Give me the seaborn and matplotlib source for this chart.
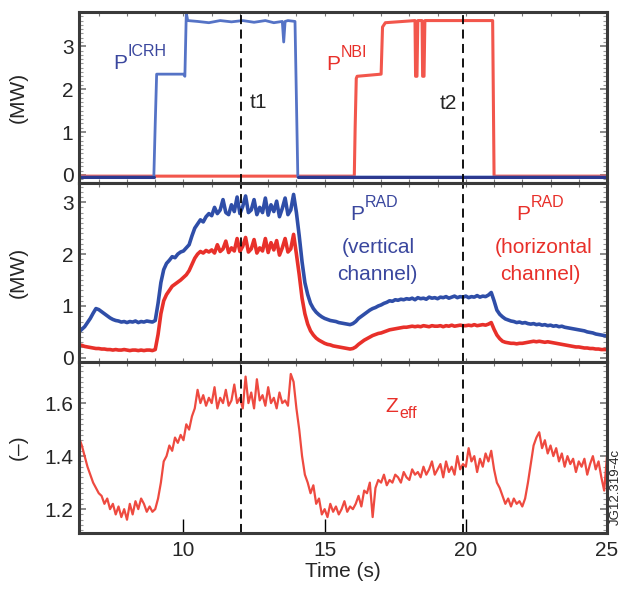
import numpy as np
import pandas as pd
import matplotlib
matplotlib.use("Agg")
import matplotlib.pyplot as plt
import seaborn as sns
from matplotlib.ticker import MultipleLocator

sns.set_style("ticks")
plt.rcParams['font.family'] = ['Liberation Sans', 'DejaVu Sans']

# ---------------- data ----------------
# top panel: heating powers (MW), breakpoints
icrh_t = [6.3, 8.95, 9.0, 9.05, 10.0, 10.05, 10.1, 10.15, 10.5, 10.9, 11.3, 11.7, 12.1,
          12.5, 12.9, 13.2, 13.5, 13.55, 13.6, 13.7, 13.95, 14.05, 25.0]
icrh_p = [-0.05, -0.05, 1.2, 2.35, 2.35, 2.3, 3.78, 3.6, 3.58, 3.55, 3.6, 3.57, 3.6,
          3.56, 3.6, 3.55, 3.58, 3.1, 3.58, 3.6, 3.58, -0.05, -0.05]
nbi_t = [6.3, 16.05, 16.08, 16.12, 16.15, 17.0, 17.05, 17.15, 18.2, 18.22, 18.27, 18.3,
         18.45, 18.47, 18.52, 18.55, 20.95, 21.0, 25.0]
nbi_p = [-0.03, -0.03, 1.1, 2.25, 2.3, 2.35, 3.45, 3.55, 3.6, 2.3, 2.3, 3.6,
         3.6, 2.3, 2.3, 3.6, 3.6, -0.03, -0.03]

# sampled traces, 0.1 s steps from 6.3 s to 25.0 s
time = np.round(np.arange(6.3, 25.001, 0.1), 2)

prad_vert = [
    0.50, 0.55, 0.60, 0.68, 0.76, 0.86, 0.95,
    0.93, 0.89, 0.85, 0.81, 0.77, 0.74, 0.72, 0.71, 0.69, 0.70,
    0.68, 0.70, 0.69, 0.71, 0.68, 0.70, 0.69, 0.71, 0.70, 0.69,
    0.72, 1.05, 1.45, 1.70, 1.82, 1.88, 1.95, 1.93, 2.00, 2.04,
    2.06, 2.12, 2.18, 2.35, 2.50, 2.58, 2.66, 2.62, 2.72, 2.78,
    2.74, 2.90, 2.78, 2.85, 3.05, 2.80, 2.76, 2.95, 2.82, 3.10,
    2.78, 2.92, 3.12, 2.80, 2.85, 3.05, 2.76, 2.90, 2.80, 3.08,
    2.75, 2.95, 2.82, 3.02, 2.72, 2.88, 3.08, 2.76, 2.85, 3.15,
    2.80, 2.35, 1.85, 1.45, 1.22, 1.05, 0.95, 0.88, 0.83, 0.79,
    0.76, 0.74, 0.72, 0.71, 0.70, 0.68, 0.67, 0.66, 0.65, 0.64,
    0.66, 0.70, 0.76, 0.80, 0.84, 0.88, 0.92, 0.95, 0.97, 1.00,
    1.02, 1.05, 1.07, 1.10, 1.09, 1.12, 1.11, 1.13, 1.12, 1.14,
    1.13, 1.15, 1.12, 1.16, 1.14, 1.15, 1.13, 1.17, 1.15, 1.16,
    1.14, 1.17, 1.16, 1.18, 1.15, 1.17, 1.19, 1.16, 1.18, 1.17,
    1.19, 1.16, 1.18, 1.17, 1.20, 1.17, 1.19, 1.18, 1.21, 1.26,
    1.10, 0.92, 0.84, 0.79, 0.75, 0.73, 0.71, 0.70, 0.68, 0.69,
    0.67, 0.68, 0.66, 0.65, 0.66, 0.64, 0.65, 0.63, 0.64, 0.62,
    0.63, 0.61, 0.62, 0.60, 0.61, 0.59, 0.58, 0.57, 0.56, 0.55,
    0.54, 0.53, 0.52, 0.50, 0.49, 0.48, 0.46, 0.45, 0.44, 0.43,
    0.42]

prad_horiz = [
    0.25, 0.24, 0.22, 0.21, 0.20, 0.19, 0.18,
    0.18, 0.17, 0.17, 0.16, 0.16, 0.15, 0.16, 0.15, 0.15, 0.16,
    0.15, 0.14, 0.15, 0.15, 0.14, 0.15, 0.14, 0.15, 0.15, 0.14,
    0.16, 0.45, 0.85, 1.10, 1.22, 1.30, 1.38, 1.42, 1.46, 1.50,
    1.55, 1.60, 1.68, 1.80, 1.92, 2.00, 2.05, 2.02, 2.07, 2.04,
    2.08, 2.02, 2.18, 2.05, 2.10, 2.25, 2.03, 2.12, 2.06, 2.30,
    2.05, 2.15, 2.32, 2.04, 2.10, 2.28, 2.02, 2.12, 2.06, 2.30,
    2.03, 2.22, 2.08, 2.26, 1.98, 2.12, 2.30, 2.04, 2.10, 2.38,
    2.00, 1.60, 1.15, 0.85, 0.65, 0.52, 0.44, 0.38, 0.34, 0.31,
    0.28, 0.26, 0.25, 0.23, 0.22, 0.21, 0.20, 0.19, 0.18, 0.17,
    0.18, 0.21, 0.26, 0.30, 0.34, 0.37, 0.40, 0.43, 0.45, 0.47,
    0.48, 0.50, 0.52, 0.54, 0.55, 0.56, 0.57, 0.58, 0.59, 0.59,
    0.60, 0.61, 0.60, 0.61, 0.60, 0.62, 0.61, 0.60, 0.62, 0.61,
    0.61, 0.62, 0.60, 0.62, 0.61, 0.63, 0.61, 0.62, 0.63, 0.62,
    0.62, 0.63, 0.62, 0.64, 0.62, 0.63, 0.64, 0.63, 0.65, 0.68,
    0.55, 0.44, 0.37, 0.32, 0.30, 0.29, 0.28, 0.28, 0.27, 0.28,
    0.28, 0.29, 0.30, 0.31, 0.32, 0.31, 0.32, 0.31, 0.30, 0.31,
    0.30, 0.29, 0.28, 0.27, 0.26, 0.25, 0.24, 0.23, 0.22, 0.21,
    0.21, 0.20, 0.19, 0.19, 0.18, 0.18, 0.17, 0.17, 0.16, 0.16,
    0.16]

zeff = [
    1.47, 1.44, 1.40, 1.36, 1.33, 1.30, 1.28,
    1.26, 1.25, 1.22, 1.24, 1.20, 1.22, 1.18, 1.21, 1.17, 1.20,
    1.16, 1.22, 1.18, 1.23, 1.20, 1.24, 1.22, 1.19, 1.21, 1.19,
    1.20, 1.24, 1.30, 1.38, 1.40, 1.44, 1.42, 1.47, 1.45, 1.48,
    1.46, 1.52, 1.50, 1.55, 1.58, 1.65, 1.60, 1.63, 1.59, 1.62,
    1.60, 1.66, 1.58, 1.62, 1.60, 1.65, 1.59, 1.61, 1.67, 1.60,
    1.62, 1.58, 1.70, 1.60, 1.64, 1.58, 1.69, 1.61, 1.63, 1.59,
    1.66, 1.60, 1.62, 1.58, 1.64, 1.60, 1.61, 1.59, 1.71, 1.68,
    1.58, 1.50, 1.40, 1.33, 1.30, 1.26, 1.29, 1.22, 1.24, 1.18,
    1.20, 1.17, 1.22, 1.19, 1.21, 1.18, 1.20, 1.23, 1.19, 1.21,
    1.20, 1.22, 1.25, 1.21, 1.27, 1.26, 1.30, 1.17, 1.28, 1.31,
    1.30, 1.33, 1.29, 1.31, 1.30, 1.33, 1.32, 1.30, 1.34, 1.32,
    1.31, 1.35, 1.33, 1.34, 1.32, 1.36, 1.33, 1.35, 1.38, 1.33,
    1.35, 1.37, 1.32, 1.38, 1.34, 1.36, 1.33, 1.40, 1.35, 1.37,
    1.36, 1.43, 1.38, 1.40, 1.34, 1.39, 1.36, 1.41, 1.38, 1.42,
    1.35, 1.30, 1.28, 1.25, 1.22, 1.24, 1.21, 1.24, 1.22, 1.23,
    1.21, 1.24, 1.30, 1.37, 1.44, 1.47, 1.49, 1.43, 1.46, 1.41,
    1.44, 1.40, 1.43, 1.38, 1.41, 1.36, 1.40, 1.37, 1.39, 1.34,
    1.38, 1.36, 1.39, 1.33, 1.37, 1.40, 1.35, 1.38, 1.32, 1.27,
    1.40]

t_markers = [12.05, 19.9]
marker_labels = ["t1", "t2"]
x_ticks = [10, 15, 20, 25]

# ---------------- styling ----------------
BLUE_TXT = "#3a479e"
RED_TXT = "#e8302a"
BLUE_LINE = "#2f4ea8"
RED_LINE = "#e8302a"
BLUE_TOP = "#5573c6"
RED_TOP = "#f2564c"
SPINE = "#3a3a3a"
FS = 15

fig = plt.figure(figsize=(6.21, 5.92), dpi=100)
L, W = 79 / 621, 528 / 621
ax1 = fig.add_axes([L, 1 - 183 / 592, W, 171 / 592])
ax2 = fig.add_axes([L, 1 - 362 / 592, W, 179 / 592])
ax3 = fig.add_axes([L, 1 - 533 / 592, W, 171 / 592])

# top panel
sns.lineplot(x=nbi_t, y=nbi_p, ax=ax1, color=RED_TOP, lw=2.2, estimator=None, sort=False)
sns.lineplot(x=icrh_t, y=icrh_p, ax=ax1, color=BLUE_TOP, lw=2.0, estimator=None, sort=False)
ax1.plot([6.3, 8.95], [-0.05, -0.05], color="#2c3a90", lw=2.2)
ax1.plot([14.05, 25], [-0.05, -0.05], color="#2c3a90", lw=2.2)
ax1.set_ylim(-0.19, 3.8)
ax1.set_yticks([0, 1, 2, 3])

# middle panel
df = pd.DataFrame({"time": time, "vert": prad_vert, "horiz": prad_horiz, "zeff": zeff})
sns.lineplot(data=df, x="time", y="horiz", ax=ax2, color=RED_LINE, lw=2.6, estimator=None)
sns.lineplot(data=df, x="time", y="vert", ax=ax2, color=BLUE_LINE, lw=2.6, estimator=None)
ax2.set_ylim(-0.08, 3.37)
ax2.set_yticks([0, 1, 2, 3])

# bottom panel
sns.lineplot(data=df, x="time", y="zeff", ax=ax3, color="#ee4a40", lw=1.6, estimator=None)
ax3.set_ylim(1.11, 1.755)
ax3.set_yticks([1.2, 1.4, 1.6])
ax3.set_yticklabels(["1.2", "1.4", "1.6"])

for ax in (ax1, ax2, ax3):
    ax.set_xlim(6.3, 25)
    for tm in t_markers:
        ax.axvline(tm, color="black", lw=1.3, ls=(0, (5, 3)))
    for s in ax.spines.values():
        s.set_color(SPINE)
        s.set_linewidth(2.2)
    ax.set_xlabel("")
    ax.set_ylabel("")
    ax.xaxis.set_minor_locator(MultipleLocator(1))
    ax.tick_params(axis="y", which="major", direction="in", length=5, width=1.2,
                   color="#777777", labelsize=FS, right=True, left=True, pad=4)
    ax.tick_params(axis="y", which="minor", direction="in", length=3, width=0.8,
                   color="#999999", right=True, left=True)
    ax.tick_params(axis="x", which="minor", direction="in", length=3, width=0.8,
                   color="#777777", top=True, bottom=True)
    ax.tick_params(axis="x", which="major", direction="in", length=3, width=0.8,
                   color="#777777", top=True, bottom=True)

ax1.yaxis.set_minor_locator(MultipleLocator(0.1))
ax2.yaxis.set_minor_locator(MultipleLocator(0.1))
ax3.yaxis.set_minor_locator(MultipleLocator(0.02))

ax1.set_xticks(x_ticks)
ax2.set_xticks(x_ticks)
ax1.set_xticklabels([])
ax2.set_xticklabels([])
ax3.set_xticks(x_ticks)
ax3.set_xticklabels([str(v) for v in x_ticks])
ax3.tick_params(axis="x", which="major", direction="in", length=10, width=1.0,
                color="black", labelsize=FS, top=False, bottom=True, pad=6)
ax3.tick_params(axis="x", which="minor", bottom=False, top=True)
ax3.set_xlabel("Time (s)", fontsize=FS, labelpad=1)

for ax, lab in ((ax1, "(MW)"), (ax2, "(MW)"), (ax3, "(\u2013)")):
    ax.set_ylabel(lab, fontsize=FS)
    ax.yaxis.set_label_coords(-0.097, 0.5)


def scripted(ax, x, y, base, script, color, up=True, ha="left"):
    """Base letter with a larger-than-mathtext super/subscript."""
    t = ax.text(x, y, base, color=color, fontsize=FS, ha=ha, va="baseline")
    dy = 9.4 if up else -4.5
    ax.annotate(script, xy=(x, y), xycoords="data", xytext=(10.3, dy),
                textcoords="offset points", color=color, fontsize=11.5,
                ha="left", va="baseline")
    return t


# annotations (baselines)
scripted(ax1, 7.52, 2.47, "P", "ICRH", BLUE_TXT)
scripted(ax1, 15.05, 2.44, "P", "NBI", RED_TXT)
ax1.text(t_markers[0] + 0.3, 1.7, marker_labels[0], fontsize=FS, va="center", ha="left")
ax1.text(t_markers[1] - 0.2, 1.67, marker_labels[1], fontsize=FS, va="center", ha="right")

scripted(ax2, 15.9, 2.66, "P", "RAD", BLUE_TXT)
ax2.text(16.9, 2.13, "(vertical", color=BLUE_TXT, fontsize=FS, ha="center", va="center")
ax2.text(16.85, 1.6, "channel)", color=BLUE_TXT, fontsize=FS, ha="center", va="center")
scripted(ax2, 21.8, 2.66, "P", "RAD", RED_TXT)
ax2.text(22.75, 2.13, "(horizontal", color=RED_TXT, fontsize=FS, ha="center", va="center")
ax2.text(22.65, 1.6, "channel)", color=RED_TXT, fontsize=FS, ha="center", va="center")

scripted(ax3, 17.15, 1.567, "Z", "eff", RED_TXT, up=False)

fig.text(0.991, 1 - 487 / 592, "JG12.319-4c", rotation=90, fontsize=9.5,
         ha="center", va="center")

fig.savefig("out.png", dpi=100)
